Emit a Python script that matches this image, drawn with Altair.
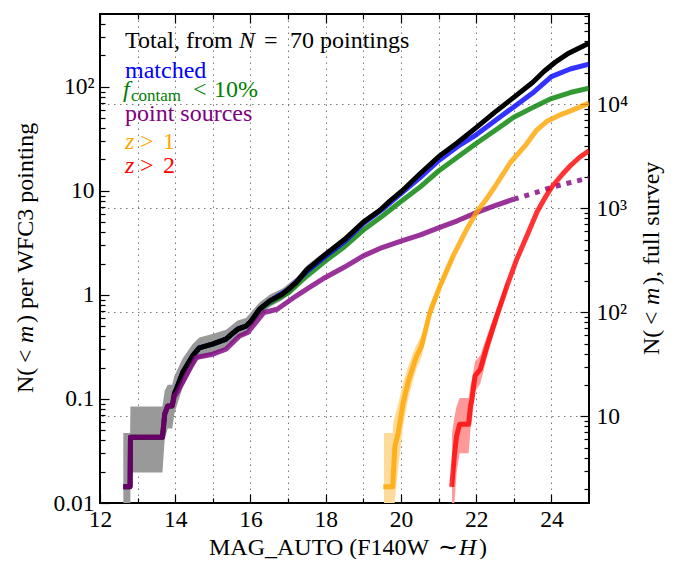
import altair as alt
import pandas as pd

# ---------------- data ----------------
# magnitudes (MAG_AUTO) and cumulative counts N(<m) per WFC3 pointing
tot_m = [12.62, 12.80, 12.81, 13.66, 13.72, 13.80, 13.92, 13.98, 14.05, 14.20, 14.46, 14.64, 14.99,
         15.35, 15.50, 15.66, 15.88, 16.00, 16.24, 16.51, 16.86, 17.22, 17.50, 18.00, 18.50, 19.00,
         19.44, 19.71, 20.02, 20.50, 21.00, 21.50, 22.00, 22.50, 23.00, 23.50, 23.80, 24.10, 24.42,
         24.70, 25.00]
tot_n = [0.0143, 0.0143, 0.0429, 0.0429, 0.0714, 0.0857, 0.0857, 0.114, 0.13, 0.18, 0.259, 0.31, 0.336,
         0.375, 0.42, 0.468, 0.50, 0.55, 0.728, 0.875, 1.02, 1.32, 1.75, 2.46, 3.40, 5.0,
         6.5, 8.0, 9.9, 14.5, 21.2, 29.0, 40.5, 57.0, 79.0, 110.0, 140.0, 172.0, 206.0,
         232.0, 262.0]

tot_band_m = [12.62, 12.80, 12.81, 13.66, 13.72, 13.80, 13.92, 13.98, 14.05, 14.20, 14.46, 14.64,
              14.99, 15.35, 15.66, 15.88, 16.24, 16.51, 16.86, 17.22, 17.50, 18.00, 18.50]
tot_band_lo = [0.0015, 0.0015, 0.0196, 0.0196, 0.041, 0.052, 0.052, 0.073, 0.088, 0.13, 0.198, 0.244,
               0.267, 0.302, 0.387, 0.415, 0.627, 0.763, 0.90, 1.18, 1.59, 2.27, 3.18]
tot_band_hi = [0.047, 0.047, 0.0846, 0.0846, 0.12, 0.137, 0.137, 0.168, 0.189, 0.246, 0.335, 0.39,
               0.42, 0.463, 0.566, 0.60, 0.846, 1.0, 1.156, 1.47, 1.92, 2.66, 3.64]

sel_m = [14.05, 14.20, 14.46, 14.64, 14.99, 15.35, 15.50, 15.66, 15.88, 16.00, 16.24, 16.51, 17.00,
         17.50, 18.00, 18.50, 19.00, 19.50, 20.00, 20.50, 21.00, 21.50, 22.00, 22.50, 23.00, 23.50,
         24.00, 24.50, 25.00]
matched_n = [0.13, 0.18, 0.259, 0.31, 0.336, 0.375, 0.42, 0.468, 0.50, 0.55, 0.728, 0.87, 1.12,
             1.68, 2.36, 3.25, 4.85, 6.6, 9.4, 13.3, 19.5, 26.5, 34.5, 47.0, 64.0, 87.0,
             125.0, 148.0, 165.0]
fcontam_n = [0.13, 0.18, 0.259, 0.31, 0.336, 0.375, 0.42, 0.468, 0.50, 0.54, 0.72, 0.84, 1.04,
             1.52, 2.13, 2.9, 4.2, 5.7, 7.9, 10.8, 15.5, 21.0, 28.5, 38.0, 51.0, 63.0,
             77.0, 88.0, 97.0]

pts_m = [12.62, 12.80, 12.81, 13.66, 13.72, 13.80, 13.92, 13.98, 14.05, 14.30, 14.55, 15.00,
         15.35, 15.71, 15.93, 16.36, 16.71, 17.22, 17.60, 17.99, 18.50, 19.00, 19.50, 20.02,
         20.50, 21.00, 21.50, 22.02, 22.50, 23.00]
pts_n = [0.0143, 0.0143, 0.0429, 0.0429, 0.0714, 0.0857, 0.0857, 0.107, 0.115, 0.17, 0.25, 0.269,
         0.30, 0.403, 0.435, 0.677, 0.728, 0.98, 1.2, 1.47, 1.85, 2.37, 2.85, 3.3,
         3.75, 4.4, 5.15, 6.2, 7.2, 8.3]
pts_ext_m = [23.00, 23.50, 24.00, 24.50, 25.00]
pts_ext_n = [8.3, 9.4, 10.8, 12.0, 13.3]

z1_m = [19.53, 19.78, 19.84, 19.93, 20.06, 20.20, 20.40, 20.55, 20.77, 21.04, 21.39, 21.75,
        22.02, 22.29, 22.50, 22.91, 23.30, 23.60, 23.88, 24.20, 24.51, 25.00]
z1_n = [0.0143, 0.0143, 0.035, 0.0475, 0.092, 0.149, 0.25, 0.323, 0.677, 1.22, 2.37, 4.28,
        6.3, 8.5, 11.0, 18.7, 27.0, 38.0, 46.5, 53.0, 58.7, 69.5]
z1_band_m = [19.55, 19.78, 19.80, 19.84, 19.93, 20.06, 20.20, 20.40, 20.55, 20.77, 21.04, 21.39]
z1_band_lo = [0.0025, 0.0025, 0.006, 0.011, 0.022, 0.056, 0.103, 0.19, 0.255, 0.58, 1.09, 2.19]
z1_band_hi = [0.047, 0.047, 0.06, 0.068, 0.09, 0.144, 0.21, 0.325, 0.406, 0.79, 1.37, 2.57]

z2_m = [21.35, 21.42, 21.48, 21.56, 21.80, 21.85, 21.89, 21.97, 22.11, 22.29, 22.55, 22.82,
        23.08, 23.35, 23.62, 23.85, 24.02, 24.30, 24.51, 24.75, 25.00]
z2_n = [0.0143, 0.0286, 0.044, 0.057, 0.057, 0.086, 0.10, 0.166, 0.193, 0.323, 0.628, 1.22,
        2.2, 3.69, 6.3, 8.8, 11.0, 14.5, 17.5, 21.0, 24.3]
z2_band_m = [21.36, 21.42, 21.48, 21.56, 21.80, 21.85, 21.89, 21.97, 22.11, 22.29, 22.55, 22.82]
z2_band_lo = [0.0025, 0.0097, 0.0196, 0.03, 0.03, 0.052, 0.063, 0.118, 0.141, 0.255, 0.534, 1.09]
z2_band_hi = [0.047, 0.0666, 0.0846, 0.102, 0.102, 0.137, 0.154, 0.23, 0.261, 0.406, 0.738, 1.37]

# axis ticks / labels
x_major = [12, 14, 16, 18, 20, 22, 24]
x_minor = [13, 15, 17, 19, 21, 23]
x_grid = [13, 14, 15, 16, 17, 18, 19, 20, 21, 22, 23, 24]
yl_major = [0.01, 0.1, 1, 10, 100]
yl_minor = [0.02, 0.03, 0.04, 0.05, 0.06, 0.07, 0.08, 0.09, 0.2, 0.3, 0.4, 0.5, 0.6, 0.7, 0.8, 0.9,
            2, 3, 4, 5, 6, 7, 8, 9, 20, 30, 40, 50, 60, 70, 80, 90, 200, 300, 400]
yr_major = [10, 100, 1000, 10000]
yr_minor = [2, 3, 4, 5, 6, 7, 8, 9, 20, 30, 40, 50, 60, 70, 80, 90, 200, 300, 400, 500, 600, 700,
            800, 900, 2000, 3000, 4000, 5000, 6000, 7000, 8000, 9000, 20000, 30000, 40000, 50000,
            60000, 70000]

FULL = 147.0          # full-survey counts / per-pointing counts
XD = [12, 25]
YD = [0.01, 500]
YR = [YD[0] * FULL, YD[1] * FULL]

FONT = "Liberation Serif"
FS = 24


def xs():
    return alt.Scale(domain=XD, nice=False, zero=False)


def ys():
    return alt.Scale(type="log", domain=YD, nice=False)


def yrs():
    return alt.Scale(type="log", domain=YR, nice=False)


def curve(m, n, color, opacity=0.8, dash=None):
    df = pd.DataFrame({"m": m, "n": n})
    kw = dict(color=color, strokeWidth=5, opacity=opacity, clip=True, strokeJoin="round")
    if dash:
        kw["strokeDash"] = dash
    return alt.Chart(df).mark_line(**kw).encode(
        x=alt.X("m:Q", scale=xs(), axis=None),
        y=alt.Y("n:Q", scale=ys(), axis=None),
    )


def band(m, lo, hi, color):
    df = pd.DataFrame({"m": m, "lo": lo, "hi": hi})
    return alt.Chart(df).mark_area(color=color, opacity=1, clip=True).encode(
        x=alt.X("m:Q", scale=xs(), axis=None),
        y=alt.Y("lo:Q", scale=ys(), axis=None),
        y2="hi:Q",
    )


corner = pd.DataFrame({"m": XD, "n": YD, "r": YR})


def axis_layer(xaxis, yaxis, yfield="n", yscale=None):
    return alt.Chart(corner).mark_point(opacity=0).encode(
        x=alt.X("m:Q", scale=xs(), axis=xaxis),
        y=alt.Y(yfield + ":Q", scale=yscale if yscale is not None else ys(), axis=yaxis),
    )


def txt(s, x, y, color="black", size=FS, italic=False, angle=0):
    return alt.Chart(pd.DataFrame({"t": [s]})).mark_text(
        align="left", baseline="alphabetic", font=FONT, fontSize=size, angle=angle,
        fontStyle="italic" if italic else "normal", color=color,
    ).encode(text="t:N", x=alt.value(x), y=alt.value(y))


MAJ, MIN = 9, 5
common = dict(domain=False, tickColor="black", tickWidth=1.2, labelFont=FONT, labelFontSize=23.5,
              labelColor="black")

ax_bottom_major = alt.Axis(orient="bottom", values=x_major, tickSize=MAJ, offset=-MAJ, labelPadding=4,
                           labelFlush=False, labelOverlap=False, format="d", grid=False, title=None,
                           **common)
ax_bottom_minor = alt.Axis(orient="bottom", values=x_minor, tickSize=MIN, offset=-MIN, labels=False,
                           grid=False, title=None, **common)
ax_top_major = alt.Axis(orient="top", values=x_major, tickSize=MAJ, offset=-MAJ, labels=False,
                        grid=False, title=None, **common)
ax_top_minor = alt.Axis(orient="top", values=x_minor, tickSize=MIN, offset=-MIN, labels=False,
                        grid=False, title=None, **common)
ax_x_grid = alt.Axis(orient="bottom", values=x_grid, grid=True, ticks=False, labels=False, domain=False,
                     title=None, gridColor="#7a7a7a", gridDash=[1.5, 4.5], gridWidth=1)

left_expr = ("datum.value < 0.05 ? '0.01' : datum.value < 0.5 ? '0.1' : datum.value < 5 ? '1' : "
             "datum.value < 50 ? '10' : '10²'")
right_expr = ("datum.value < 50 ? '10' : datum.value < 500 ? '10²' : datum.value < 5000 ? '10³' : '10⁴'")

ax_left_major = alt.Axis(orient="left", values=yl_major, tickSize=MAJ, offset=-MAJ, labelPadding=6,
                         labelExpr=left_expr, labelOverlap=False, grid=False, title=None, **common)
ax_left_minor = alt.Axis(orient="left", values=yl_minor, tickSize=MIN, offset=-MIN, labels=False,
                         grid=False, title=None, **common)
ax_right_major = alt.Axis(orient="right", values=yr_major, tickSize=MAJ, offset=-MAJ, labelPadding=7,
                          labelExpr=right_expr, labelOverlap=False, grid=False, title=None, **common)
ax_right_minor = alt.Axis(orient="right", values=yr_minor, tickSize=MIN, offset=-MIN, labels=False,
                          grid=False, title=None, **common)
ax_y_grid = alt.Axis(orient="right", values=yr_major, grid=True, ticks=False, labels=False, domain=False,
                     title=None, gridColor="#7a7a7a", gridDash=[1.5, 4.5], gridWidth=1)

layers = [
    axis_layer(ax_x_grid, ax_y_grid, "r", yrs()),
    band(tot_band_m, tot_band_lo, tot_band_hi, "#999999"),
    band(z1_band_m, z1_band_lo, z1_band_hi, "#ffdb99"),
    band(z2_band_m, z2_band_lo, z2_band_hi, "#ff9999"),
    curve(sel_m, fcontam_n, "green"),
    curve(sel_m, matched_n, "blue"),
    curve(tot_m, tot_n, "black", opacity=1.0),
    curve(pts_m, pts_n, "purple"),
    curve(pts_ext_m, pts_ext_n, "purple", dash=[5, 6]),
    curve(z1_m, z1_n, "orange"),
    curve(z2_m, z2_n, "red"),
    axis_layer(ax_bottom_major, ax_left_major),
    axis_layer(ax_bottom_minor, ax_left_minor),
    axis_layer(ax_top_major, ax_right_major, "r", yrs()),
    axis_layer(ax_top_minor, ax_right_minor, "r", yrs()),
    # in-plot legend text
    txt("Total, from", 25, 34),
    txt("N", 139, 34, italic=True),
    txt("=", 164, 34),
    txt("70 pointings", 190, 34),
    txt("matched", 25, 64, "blue"),
    txt("f", 23, 83, "green", italic=True),
    txt("contam", 31, 87, "green", size=17),
    txt("<", 93, 83, "green"),
    txt("10%", 114, 83, "green"),
    txt("point sources", 25, 107, "purple"),
    txt("z", 25, 135, "orange", italic=True),
    txt(">", 40, 135, "orange"),
    txt("1", 63, 135, "orange"),
    txt("z", 25, 159, "red", italic=True),
    txt(">", 40, 159, "red"),
    txt("2", 63, 159, "red"),
    # axis titles (mixed upright / italic pieces)
    txt("MAG_AUTO (F140W", 109, 541),
    txt("∼", 338, 541),
    txt("H", 359, 541, italic=True),
    txt(")", 379, 541),
    txt("N(", -67, 379, angle=270),
    txt("<", -67, 349, angle=270),
    txt("m", -67, 329, italic=True, angle=270),
    txt(") per WFC3 pointing", -67, 309, angle=270),
    txt("N(", 559, 341, angle=270),
    txt("<", 559, 311, angle=270),
    txt("m", 559, 291, italic=True, angle=270),
    txt("), full survey", 559, 271, angle=270),
]

chart = (
    alt.layer(*layers)
    .resolve_scale(x="independent", y="independent")
    .properties(width=489, height=489, autosize=alt.AutoSizeParams(type="none"),
                padding={"left": 92, "top": 6, "right": 80, "bottom": 56})
    .configure_view(stroke="black", strokeWidth=2)
)

chart.save("out.html", embed_options={"renderer": "svg", "actions": False})
